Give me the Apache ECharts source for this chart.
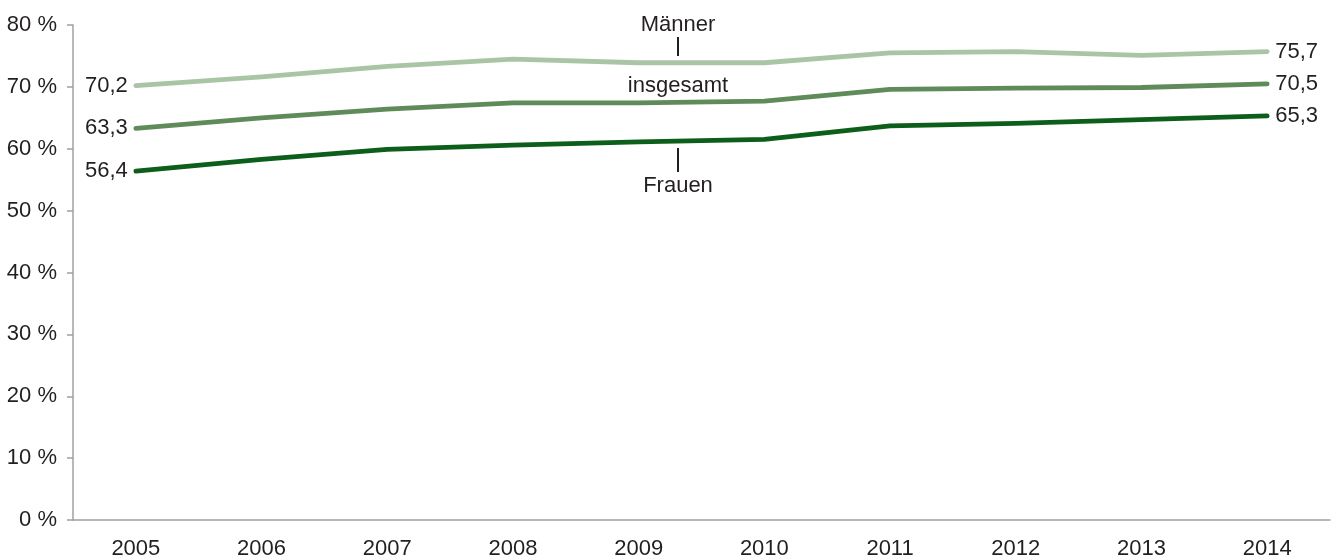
<!DOCTYPE html>
<html>
<head>
<meta charset="utf-8">
<script src="https://cdn.jsdelivr.net/npm/echarts@6/dist/echarts.min.js"></script>
<style>
html,body{margin:0;padding:0;background:#fff;}
#chart{width:1336px;height:560px;}
</style>
</head>
<body>
<div id="chart"></div>
<script>
const years = ['2005','2006','2007','2008','2009','2010','2011','2012','2013','2014'];
const maenner = [70.2, 71.6, 73.3, 74.5, 73.9, 73.9, 75.5, 75.7, 75.1, 75.7];
const insgesamt = [63.3, 65.0, 66.4, 67.4, 67.4, 67.7, 69.6, 69.8, 69.9, 70.5];
const frauen = [56.4, 58.3, 59.9, 60.6, 61.1, 61.5, 63.7, 64.1, 64.7, 65.3];
const yTicks = [0, 10, 20, 30, 40, 50, 60, 70, 80];

const FONT = '"Liberation Sans", Arial, sans-serif';
const TXT = '#231f20';
const FS = 22;

function fmt(v){ return v.toFixed(1).replace('.', ','); }

function mkData(arr){
  return arr.map((v, i) => {
    const item = { value: v };
    if (i === 0) {
      item.label = { show: true, position: 'left', distance: 8 };
    } else if (i === arr.length - 1) {
      item.label = { show: true, position: 'right', distance: 8 };
    }
    return item;
  });
}

function mkSeries(name, arr, color){
  return {
    name: name,
    type: 'line',
    data: mkData(arr),
    symbol: 'circle',
    symbolSize: 0.01,
    showSymbol: true,
    lineStyle: { color: color, width: 4.8, cap: 'round', join: 'round' },
    itemStyle: { color: color },
    label: { show: false, color: TXT, fontSize: FS, fontFamily: FONT, formatter: p => fmt(p.value) },
    emphasis: { disabled: true },
    animation: false
  };
}

const chart = echarts.init(document.getElementById('chart'), null, { renderer: 'canvas' });
chart.setOption({
  animation: false,
  grid: { left: 73, right: 6, top: 25, bottom: 40 },
  xAxis: {
    type: 'category',
    data: years,
    boundaryGap: true,
    axisLine: { lineStyle: { color: '#a0a0a4', width: 1.5 } },
    axisTick: { show: false },
    axisLabel: { color: TXT, fontSize: FS, fontFamily: FONT, margin: 18 }
  },
  yAxis: {
    type: 'value',
    min: yTicks[0],
    max: yTicks[yTicks.length - 1],
    interval: 10,
    axisLine: { show: true, lineStyle: { color: '#a0a0a4', width: 1.5 } },
    axisTick: { show: true, length: 6, lineStyle: { color: '#a0a0a4', width: 1.5 } },
    splitLine: { show: false },
    axisLabel: { color: TXT, fontSize: FS, fontFamily: FONT, margin: 16, formatter: v => v + ' %' }
  },
  series: [
    mkSeries('Männer', maenner, '#aac5a5'),
    mkSeries('insgesamt', insgesamt, '#5f8b5b'),
    mkSeries('Frauen', frauen, '#0d5e1b')
  ],
  graphic: [
    { type: 'text', style: { text: 'Männer', x: 678, y: 25, fill: TXT, font: FS + 'px ' + FONT, textAlign: 'center', textVerticalAlign: 'middle' } },
    { type: 'line', shape: { x1: 678, y1: 37, x2: 678, y2: 56 }, style: { stroke: TXT, lineWidth: 2 } },
    { type: 'text', style: { text: 'insgesamt', x: 678, y: 86, fill: TXT, font: FS + 'px ' + FONT, textAlign: 'center', textVerticalAlign: 'middle' } },
    { type: 'line', shape: { x1: 678, y1: 148, x2: 678, y2: 172 }, style: { stroke: TXT, lineWidth: 2 } },
    { type: 'text', style: { text: 'Frauen', x: 678, y: 186, fill: TXT, font: FS + 'px ' + FONT, textAlign: 'center', textVerticalAlign: 'middle' } }
  ]
});
</script>
</body>
</html>
